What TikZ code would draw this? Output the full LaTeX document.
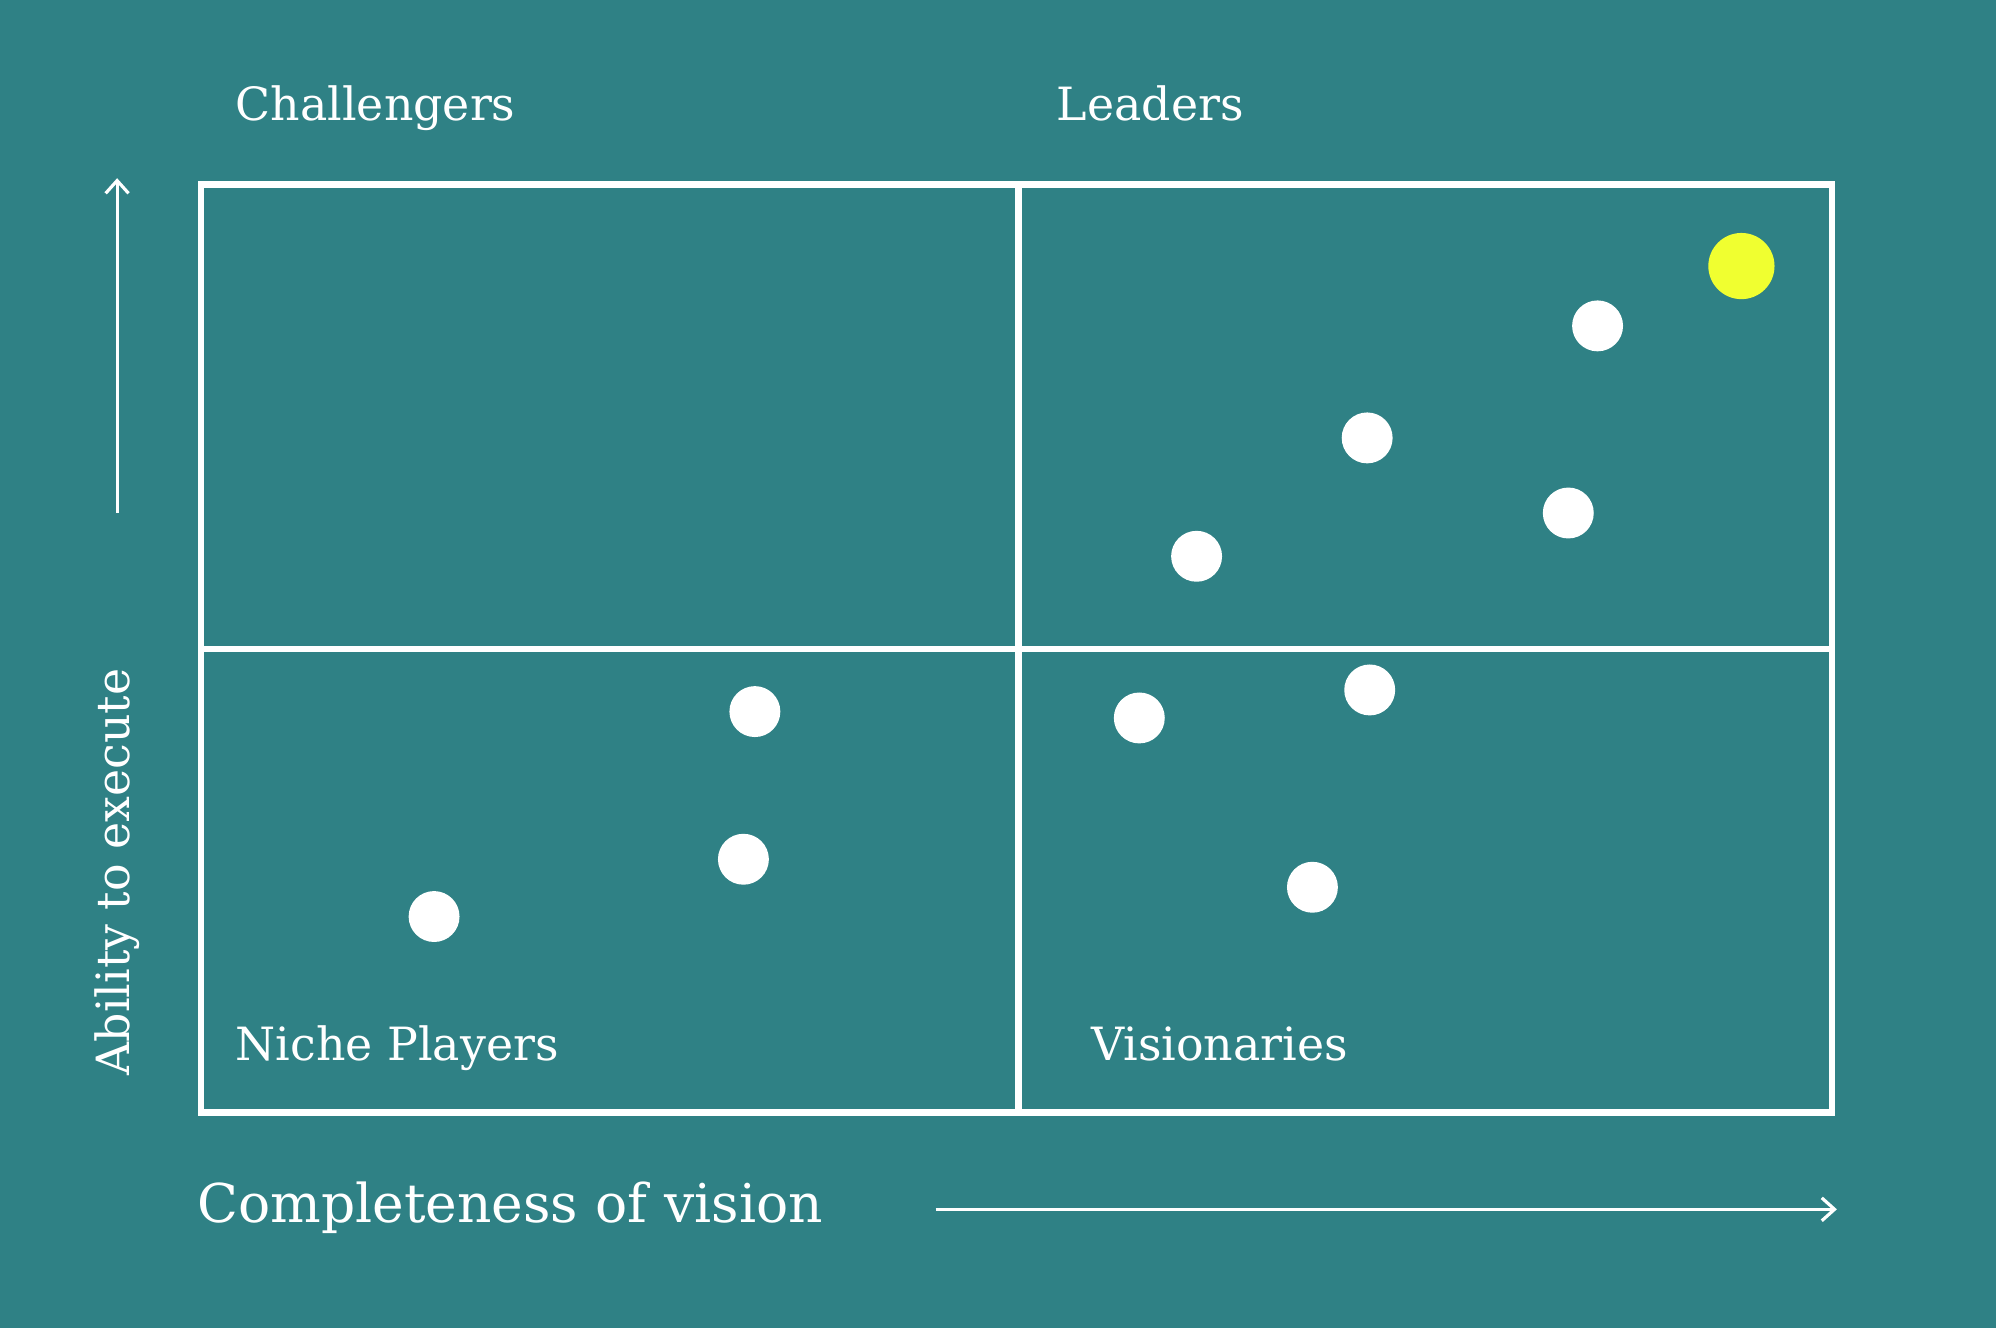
\documentclass[tikz,border=0pt]{standalone}
\usepackage{fontspec}
\usetikzlibrary{arrows.meta}
\setmainfont{DejaVu Serif}
\definecolor{bg}{HTML}{2F8185}
\definecolor{hi}{HTML}{F0FF30}
\begin{document}
\begin{tikzpicture}[x=1pt,y=-1pt,
  frame/.style={draw=white,line width=5pt},
  dot/.style={circle,fill=white,minimum size=40pt,inner sep=0pt},
  lbl/.style={text=white,font=\fontsize{36}{40}\selectfont,anchor=base west,inner sep=0pt},
  axis/.style={draw=white,line width=2.5pt,-{Straight Barb[length=10pt,width=18pt]}}]
\useasboundingbox[fill=bg] (0,0) rectangle (1568,1043);
\draw[frame] (158,145) rectangle (1439,874);
\draw[frame] (800,145) -- (800,874);
\draw[frame] (158,510) -- (1439,510);
\node[circle,fill=hi,minimum size=52pt,inner sep=0pt] (y) at (1368,209) {};
\foreach \n/\x/\y in {a/1255/256,b/1074/344,c/1232/403,d/940/437,e/1076/542,f/895/564,g/1031/697,h/593/559,i/584/675,j/341/720}
  \node[dot] (\n) at (\x,\y) {};
\node[lbl] (ch) at (185,95) {Challengers};
\node[lbl] (le) at (830,95) {Leaders};
\node[lbl] (np) at (185,833) {Niche Players};
\node[lbl] (vi) at (857,833) {Visionaries};
\node[lbl,font=\fontsize{42}{46}\selectfont] (cv) at (155,960) {Completeness of vision};
\node[lbl,rotate=90] (ab) at (102,845) {Ability to execute};
\coordinate (h1) at (735,950); \coordinate (h2) at (1443,950);
\coordinate (v1) at (92,403); \coordinate (v2) at (92,140);
\draw[axis] (h1) -- (h2);
\draw[axis] (v1) -- (v2);
\end{tikzpicture}
\end{document}
